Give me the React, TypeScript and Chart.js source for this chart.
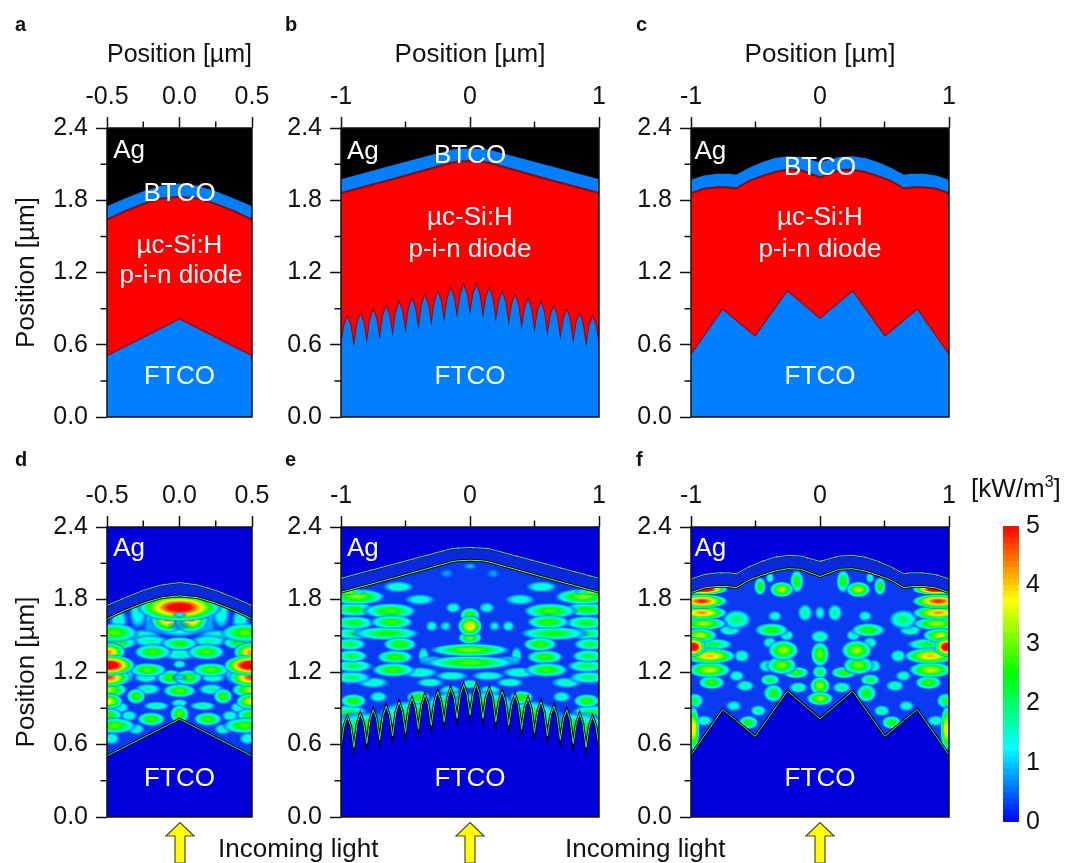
import React, { useEffect, useRef } from "react";
import { Chart, registerables } from "chart.js";

Chart.register(...registerables);

type Pair = [number, number];
type Blob = [number, number, number, number, number];

const FONT = '"Liberation Sans", Arial, sans-serif';
const FS = 26;
const TICK_FS = 25;

const yTicks = [0, 0.6, 1.2, 1.8, 2.4];
const yMinor = [0.3, 0.9, 1.5, 2.1];
const narrowTicks = [-0.5, 0, 0.5];
const narrowLabels = ["-0.5", "0.0", "0.5"];
const narrowMinor = [-0.25, 0.25];
const wideTicks = [-1, 0, 1];
const wideLabels = ["-1", "0", "1"];
const wideMinor = [-0.5, 0.5];

const mirror = (half: Pair[]): Pair[] => [
  ...half,
  ...half.slice(0, -1).reverse().map(([x, y]) => [-x, y] as Pair),
];

// Layer boundaries, left half (the structures are mirror symmetric)
const aFtco: Pair[] = [[-0.5, 0.505], [0, 0.81]];
const aSi: Pair[] = [[-0.5, 1.64], [-0.375, 1.71], [-0.25, 1.77], [-0.125, 1.815], [0, 1.83]];
const aBtco: Pair[] = [[-0.5, 1.75], [-0.375, 1.815], [-0.25, 1.875], [-0.125, 1.92], [0, 1.94]];

const bFtco: Pair[] = [
  [-1, 0.59], [-0.975, 0.76], [-0.95, 0.83], [-0.925, 0.755], [-0.9, 0.576], [-0.875, 0.772], [-0.85, 0.856], [-0.825, 0.782],
  [-0.8, 0.609], [-0.775, 0.805], [-0.75, 0.889], [-0.725, 0.814], [-0.7, 0.64], [-0.675, 0.835], [-0.65, 0.919], [-0.625, 0.844],
  [-0.6, 0.67], [-0.575, 0.867], [-0.55, 0.952], [-0.525, 0.876], [-0.5, 0.7], [-0.475, 0.897], [-0.45, 0.982], [-0.425, 0.906],
  [-0.4, 0.727], [-0.375, 0.925], [-0.35, 1.01], [-0.325, 0.934], [-0.3, 0.757], [-0.275, 0.953], [-0.25, 1.037], [-0.225, 0.962],
  [-0.2, 0.787], [-0.175, 0.983], [-0.15, 1.067], [-0.125, 0.992], [-0.1, 0.817], [-0.075, 1.013], [-0.05, 1.097], [-0.025, 1.021], [0, 0.845],
];
const bSi: Pair[] = [[-1, 1.86], [-0.6, 1.975], [-0.2, 2.095], [-0.15, 2.11], [-0.1, 2.12], [0, 2.125]];
const bBtco: Pair[] = [[-1, 1.975], [-0.6, 2.09], [-0.2, 2.205], [-0.15, 2.22], [-0.1, 2.225], [0, 2.23]];

const cFtco: Pair[] = [[-1, 0.513], [-0.754, 0.891], [-0.503, 0.667], [-0.253, 1.042], [0, 0.814]];
const cSi: Pair[] = [[-1, 1.857], [-0.9, 1.895], [-0.8, 1.908], [-0.72, 1.908], [-0.65, 1.897], [-0.55, 1.96], [-0.45, 2.0], [-0.35, 2.035], [-0.25, 2.055], [-0.15, 2.05], [-0.05, 2.01], [0, 1.99]];
const cBtco: Pair[] = [[-1, 1.97], [-0.9, 2.005], [-0.8, 2.02], [-0.7, 2.02], [-0.65, 2.012], [-0.55, 2.07], [-0.45, 2.115], [-0.35, 2.15], [-0.25, 2.165], [-0.15, 2.16], [-0.05, 2.13], [0, 2.115]];

// Absorption hot spots: x, y [µm], kW/m³, radius x, radius y [µm], left half
const dSpots: Blob[] = [
  [0, 1.735, 5.6, 0.17, 0.06], [-0.08, 1.64, 4.4, 0.07, 0.06], [0, 1.6, 2.4, 0.14, 0.06], [-0.18, 1.63, 1.6, 0.05, 0.1],
  [-0.287, 1.69, 1.6, 0.04, 0.08], [-0.42, 1.62, 1.6, 0.04, 0.07], [-0.45, 1.526, 3.0, 0.1, 0.04], [-0.275, 1.498, 1.8, 0.1, 0.03],
  [0, 1.435, 2.6, 0.08, 0.03], [-0.425, 1.443, 2.8, 0.08, 0.03], [-0.2, 1.457, 1.8, 0.09, 0.025], [-0.49, 1.366, 4.4, 0.07, 0.04],
  [-0.184, 1.366, 2.9, 0.08, 0.035], [0, 1.347, 1.8, 0.09, 0.025], [-0.49, 1.256, 6.0, 0.11, 0.045], [0, 1.265, 1.7, 0.03, 0.02],
  [-0.218, 1.218, 3.0, 0.08, 0.03], [-0.368, 1.196, 1.7, 0.04, 0.055], [-0.49, 1.155, 4.8, 0.09, 0.04], [-0.06, 1.155, 2.9, 0.06, 0.035],
  [-0.23, 1.155, 1.7, 0.06, 0.025], [-0.49, 1.053, 3.4, 0.08, 0.035], [0, 1.045, 3.0, 0.07, 0.03], [-0.218, 1.058, 1.8, 0.06, 0.025],
  [-0.3, 1.0, 2.9, 0.04, 0.035], [-0.49, 0.957, 3.8, 0.06, 0.035], [-0.16, 0.92, 1.9, 0.06, 0.02], [0, 0.943, 1.7, 0.04, 0.02],
  [-0.41, 0.907, 1.8, 0.04, 0.025], [0, 0.852, 3.0, 0.04, 0.04], [-0.49, 0.844, 2.8, 0.06, 0.03], [-0.195, 0.811, 2.9, 0.06, 0.03],
  [-0.35, 0.838, 1.7, 0.04, 0.025], [-0.448, 0.756, 3.0, 0.09, 0.035], [-0.3, 0.728, 1.7, 0.04, 0.025], [-0.47, 0.65, 1.6, 0.04, 0.03],
];
// The dark centres inside the rings of panel d, drawn last
const dHoles: Blob[] = [[0, 1.585, 0.6, 0.05, 0.02], [0, 1.675, 1.4, 0.03, 0.012], [0, 1.155, 1.2, 0.035, 0.012]];
const eSpots: Blob[] = [
  [-0.879, 1.823, 3.2, 0.17, 0.035], [-0.9, 1.718, 2.6, 0.14, 0.03], [-0.62, 1.705, 2.9, 0.16, 0.035], [-0.555, 1.905, 1.7, 0.1, 0.025],
  [-0.9, 1.608, 2.5, 0.13, 0.03], [-0.607, 1.614, 2.9, 0.13, 0.03], [-0.9, 1.52, 2.2, 0.12, 0.03], [-0.646, 1.52, 2.6, 0.2, 0.03],
  [-0.93, 1.43, 2.3, 0.1, 0.028], [-0.543, 1.43, 2.9, 0.1, 0.03], [-0.917, 1.333, 2.3, 0.1, 0.028], [-0.581, 1.325, 2.8, 0.11, 0.03],
  [-0.904, 1.25, 2.2, 0.12, 0.028], [-0.594, 1.218, 2.9, 0.13, 0.03], [-0.917, 1.155, 2.1, 0.12, 0.028], [-0.75, 1.113, 1.7, 0.1, 0.025],
  [-0.904, 0.962, 2.8, 0.08, 0.03], [-0.71, 0.995, 1.7, 0.06, 0.025], [-0.4, 0.99, 2.8, 0.07, 0.03], [-0.49, 0.893, 2.4, 0.1, 0.035],
  [-0.94, 0.866, 2.2, 0.12, 0.035], [-0.13, 1.732, 1.6, 0.05, 0.025], [-0.297, 1.58, 1.6, 0.04, 0.025], [-0.19, 1.58, 1.3, 0.04, 0.025],
  [-0.388, 1.8, 1.6, 0.1, 0.025], [-0.18, 2.015, 0.9, 0.05, 0.025], [0, 2.075, 1.0, 0.05, 0.018], [-0.36, 1.333, 1.7, 0.035, 0.045],
  [-0.284, 1.292, 1.7, 0.09, 0.022], [-0.388, 1.196, 1.7, 0.12, 0.025], [-0.142, 1.168, 1.7, 0.11, 0.022], [-0.31, 1.113, 1.7, 0.09, 0.022],
  [-0.155, 1.045, 1.8, 0.07, 0.025], [0, 1.1, 1.9, 0.06, 0.022], [0, 1.669, 3.0, 0.06, 0.035], [0, 1.58, 4.1, 0.07, 0.045],
  [0, 1.485, 3.2, 0.07, 0.028], [0, 1.383, 3.2, 0.24, 0.028], [0, 1.278, 3.0, 0.27, 0.03], [-0.75, 0.74, 2.6, 0.3, 0.07],
  [-0.4, 0.84, 2.6, 0.25, 0.07], [-0.1, 0.93, 2.6, 0.2, 0.06], [-0.95, 1.86, 3.4, 0.1, 0.012],
];
const fSpots: Blob[] = [
  [-0.904, 1.883, 6.0, 0.14, 0.022], [-0.917, 1.787, 5.0, 0.15, 0.03], [-0.917, 1.69, 4.4, 0.15, 0.03], [-0.904, 1.6, 3.4, 0.14, 0.028],
  [-0.93, 1.504, 3.6, 0.1, 0.03], [-0.982, 1.408, 6.0, 0.07, 0.04], [-0.853, 1.333, 4.2, 0.15, 0.035], [-0.858, 1.218, 3.6, 0.13, 0.035],
  [-0.84, 1.113, 2.9, 0.08, 0.03], [-0.97, 0.962, 2.4, 0.05, 0.035], [-0.98, 0.73, 4.0, 0.035, 0.1], [-0.9, 0.797, 1.7, 0.06, 0.025],
  [-0.646, 1.636, 2.1, 0.09, 0.045], [-0.7, 1.548, 1.9, 0.07, 0.025], [-0.827, 1.43, 2.4, 0.12, 0.025], [-0.607, 1.333, 1.8, 0.05, 0.03],
  [-0.67, 0.92, 1.6, 0.05, 0.025], [-0.375, 1.548, 2.8, 0.1, 0.03], [-0.258, 1.504, 1.8, 0.045, 0.025], [-0.284, 1.38, 3.4, 0.09, 0.045],
  [-0.388, 1.443, 1.8, 0.045, 0.025], [-0.297, 1.256, 3.2, 0.09, 0.04], [-0.186, 1.196, 2.8, 0.08, 0.025], [-0.413, 1.25, 1.8, 0.05, 0.03],
  [-0.388, 1.135, 2.4, 0.06, 0.025], [-0.36, 1.025, 2.7, 0.06, 0.04], [-0.58, 1.086, 1.8, 0.06, 0.025], [-0.555, 0.783, 2.7, 0.06, 0.03],
  [-0.478, 0.88, 1.9, 0.05, 0.025], [-0.297, 1.883, 3.6, 0.07, 0.035], [-0.18, 1.95, 2.8, 0.04, 0.05], [-0.388, 1.98, 1.7, 0.025, 0.025],
  [-0.465, 1.91, 2.8, 0.035, 0.04], [0, 1.347, 3.2, 0.055, 0.055], [0, 1.493, 1.9, 0.06, 0.03], [0, 1.2, 2.4, 0.045, 0.03],
  [0, 1.086, 3.4, 0.06, 0.04], [0, 0.98, 3.4, 0.08, 0.03], [-0.116, 1.69, 1.9, 0.045, 0.04], [0, 1.69, 1.5, 0.035, 0.035],
  [-0.35, 1.663, 1.6, 0.045, 0.025], [-0.168, 1.072, 1.9, 0.06, 0.025], [-0.646, 1.168, 1.7, 0.05, 0.025],
];

const aLabels = [["Ag", -0.348, 2.21], ["BTCO", 0, 1.85], ["µc-Si:H", 0, 1.42], ["p-i-n diode", 0.01, 1.17], ["FTCO", 0, 0.33]];
const bLabels = [["Ag", -0.83, 2.2], ["BTCO", 0, 2.17], ["µc-Si:H", 0, 1.65], ["p-i-n diode", 0, 1.39], ["FTCO", 0, 0.337]];
const cLabels = [["Ag", -0.85, 2.2], ["BTCO", 0, 2.07], ["µc-Si:H", 0, 1.65], ["p-i-n diode", 0, 1.39], ["FTCO", 0, 0.337]];
const dLabels = [["Ag", -0.348, 2.22], ["FTCO", 0, 0.32]];
const eLabels = [["Ag", -0.83, 2.22], ["FTCO", 0, 0.32]];
const fLabels = [["Ag", -0.85, 2.22], ["FTCO", 0, 0.32]];

const barBands = [0, 0.1, 0.2, 0.3, 0.4, 0.5, 0.6, 0.7, 0.8, 0.9, 1, 1.1, 1.2, 1.3, 1.4, 1.5, 1.6, 1.7, 1.8, 1.9, 2, 2.1, 2.2, 2.3, 2.4, 2.5, 2.6, 2.7, 2.8, 2.9, 3, 3.1, 3.2, 3.3, 3.4, 3.5, 3.6, 3.7, 3.8, 3.9, 4, 4.1, 4.2, 4.3, 4.4, 4.5, 4.6, 4.7, 4.8, 4.9];
const barTicks = [0, 1, 2, 3, 4, 5];

const jet = (v: number, a = 1) => {
  const t = Math.max(0, Math.min(1, v / 5)) * 4;
  let r = 0, g = 0, b = 0;
  if (t < 1) { g = t; b = 1; }
  else if (t < 2) { g = 1; b = 2 - t; }
  else if (t < 3) { r = t - 2; g = 1; }
  else { r = 1; g = 4 - t; }
  return `rgba(${Math.round(r * 255)},${Math.round(g * 255)},${Math.round(b * 255)},${a})`;
};

const spotImage = (wpx: number, hpx: number, v: number) => {
  const c = document.createElement("canvas");
  c.width = Math.max(2, Math.ceil(wpx * 2));
  c.height = Math.max(2, Math.ceil(hpx * 2));
  const g = c.getContext("2d")!;
  g.translate(c.width / 2, c.height / 2);
  g.scale(c.width / 2, c.height / 2);
  const grad = g.createRadialGradient(0, 0, 0, 0, 0, 1);
  for (let i = 0; i <= 20; i++) {
    const r = i / 20;
    const val = v * (1 - Math.pow(r, 1.6));
    grad.addColorStop(r, jet(val, Math.min(1, val / 0.9)));
  }
  g.fillStyle = grad;
  g.beginPath();
  g.arc(0, 0, 1, 0, Math.PI * 2);
  g.fill();
  return c;
};

const minorAndText = {
  id: "minorAndText",
  beforeDatasetsDraw(chart: any, _a: any, o: any) {
    const { ctx, chartArea: ca } = chart;
    if (o.background) {
      ctx.save();
      ctx.fillStyle = o.background;
      ctx.fillRect(ca.left, ca.top, ca.right - ca.left, ca.bottom - ca.top);
      ctx.restore();
    }
  },
  afterDraw(chart: any, _a: any, o: any) {
    const { ctx, chartArea: ca, scales } = chart;
    ctx.save();
    ctx.fillStyle = "#fff";
    ctx.font = `${FS}px ${FONT}`;
    ctx.textAlign = "center";
    ctx.textBaseline = "middle";
    for (const [t, x, y] of o.labels) ctx.fillText(t, scales.x.getPixelForValue(x), scales.y.getPixelForValue(y));
    ctx.strokeStyle = "#111";
    ctx.lineWidth = 1.5;
    ctx.strokeRect(ca.left, ca.top, ca.right - ca.left, ca.bottom - ca.top);
    ctx.beginPath();
    for (const v of o.minorY) {
      const p = scales.y.getPixelForValue(v);
      ctx.moveTo(ca.left - 6.5, p);
      ctx.lineTo(ca.left, p);
    }
    for (const v of o.minorX) {
      const p = scales.x.getPixelForValue(v);
      ctx.moveTo(p, ca.top - 6.5);
      ctx.lineTo(p, ca.top);
    }
    ctx.stroke();
    ctx.restore();
  },
};

const toPts = (pairs: Pair[]) => pairs.map(([x, y]) => ({ x, y }));
const line = (pts: Pair[], extra: any) => ({
  type: "line",
  data: toPts(pts),
  pointRadius: 0,
  tension: 0,
  fill: false,
  borderWidth: 1,
  borderColor: "transparent",
  ...extra,
});

const structureSets = (f: Pair[], s: Pair[], b: Pair[]) => [
  line(f, { fill: "start", backgroundColor: "#0080ff", order: 3 }),
  line(f, { fill: "end", backgroundColor: "#ff0000", borderColor: "#8a0a0a", borderWidth: 2, order: 6 }),
  line(s, { fill: "end", backgroundColor: "#0080ff", borderColor: "#8a0a0a", borderWidth: 2, order: 5 }),
  line(b, { fill: "end", backgroundColor: "#000000", order: 4 }),
];

const spotPoints = (all: Blob[], order: number) => ({
  type: "scatter",
  data: all.map(([x, y, v, w, h]) => ({ x, y, v, w, h })),
  order,
  pointRadius: 1,
  pointBorderWidth: 0,
  pointStyle: (c: any) => {
    const r = c.raw;
    if (!r) return "circle";
    const sx = c.chart.scales.x, sy = c.chart.scales.y;
    const wp = Math.abs(sx.getPixelForValue(r.w) - sx.getPixelForValue(0));
    const hp = Math.abs(sy.getPixelForValue(r.h) - sy.getPixelForValue(0));
    const narrow = sx.max - sx.min < 1.5 ? 1.25 : 1;
    return spotImage(wp * 1.4 * narrow, hp * 2, r.v);
  },
});

const fieldSets = (f: Pair[], s: Pair[], b: Pair[], spots: Blob[], inner: string, holes: Blob[] = []) => {
  const all = [...spots, ...spots.filter((p) => p[0] !== 0).map((p) => [-p[0], p[1], p[2], p[3], p[4]] as Blob)].sort((p, q) => p[2] - q[2]);
  return [
    spotPoints(all, 20),
    spotPoints(holes, 19),
    line(s, { fill: "end", backgroundColor: "#0a28dc", order: 10 }),
    line(b, { fill: "end", backgroundColor: "#0000dc", order: 9 }),
    line(f, { fill: "start", backgroundColor: "#0000dc", order: 8 }),
    line(f, { borderColor: "#000", borderWidth: 2.8, order: 7 }),
    line(f, { borderColor: inner, borderWidth: 1, order: 6 }),
    line(s, { borderColor: "#000", borderWidth: 2.8, order: 5 }),
    line(s, { borderColor: "#4dff70", borderWidth: 1, order: 4 }),
    line(b, { borderColor: "#06123a", borderWidth: 2.2, order: 3 }),
    line(b, { borderColor: "#22e0d8", borderWidth: 1, order: 2 }),
    line(b, { borderColor: "#ff6a20", borderWidth: 1.4, borderDash: [2, 13], order: 1 }),
  ];
};

type Cfg = {
  left: number; top: number; width: number; height: number;
  plotL: number; plotT: number; plotB: number; plotR: number;
  xMin: number; xMax: number; xT: number[]; xL: string[]; xM: number[];
  xTitle: boolean; yTitle: boolean; labels: any[]; sets: any[]; bg?: string;
};

const heatBase = "#0a3af2";

const panels: Cfg[] = [
  { left: 0, top: 30, width: 290, height: 410, plotL: 107, plotR: 252, plotT: 128, plotB: 419, xMin: -0.5, xMax: 0.5, xT: narrowTicks, xL: narrowLabels, xM: narrowMinor, xTitle: true, yTitle: true, labels: aLabels, sets: structureSets(mirror(aFtco), mirror(aSi), mirror(aBtco)) },
  { left: 270, top: 30, width: 360, height: 410, plotL: 341, plotR: 599, plotT: 128, plotB: 420, xMin: -1, xMax: 1, xT: wideTicks, xL: wideLabels, xM: wideMinor, xTitle: true, yTitle: false, labels: bLabels, sets: structureSets(mirror(bFtco), mirror(bSi), mirror(bBtco)) },
  { left: 620, top: 30, width: 362, height: 410, plotL: 691, plotR: 949, plotT: 128, plotB: 420, xMin: -1, xMax: 1, xT: wideTicks, xL: wideLabels, xM: wideMinor, xTitle: true, yTitle: false, labels: cLabels, sets: structureSets(mirror(cFtco), mirror(cSi), mirror(cBtco)) },
  { left: 0, top: 470, width: 290, height: 370, plotL: 107, plotR: 252, plotT: 527, plotB: 818, xMin: -0.5, xMax: 0.5, xT: narrowTicks, xL: narrowLabels, xM: narrowMinor, xTitle: false, yTitle: true, labels: dLabels, bg: heatBase, sets: fieldSets(mirror(aFtco), mirror(aSi), mirror(aBtco), dSpots, "#20e8b0", dHoles) },
  { left: 270, top: 470, width: 360, height: 370, plotL: 341, plotR: 599, plotT: 527, plotB: 818, xMin: -1, xMax: 1, xT: wideTicks, xL: wideLabels, xM: wideMinor, xTitle: false, yTitle: false, labels: eLabels, bg: heatBase, sets: fieldSets(mirror(bFtco), mirror(bSi), mirror(bBtco), eSpots, "#30e890") },
  { left: 620, top: 470, width: 362, height: 370, plotL: 691, plotR: 949, plotT: 527, plotB: 818, xMin: -1, xMax: 1, xT: wideTicks, xL: wideLabels, xM: wideMinor, xTitle: false, yTitle: false, labels: fLabels, bg: heatBase, sets: fieldSets(mirror(cFtco), mirror(cSi), mirror(cBtco), fSpots, "#20e8b0") },
];

function makePanel(cv: HTMLCanvasElement, p: Cfg) {
  const axisFont = { family: FONT, size: TICK_FS };
  const titleFont = { family: FONT, size: FS };
  return new Chart(cv, {
    type: "scatter",
    data: { datasets: p.sets },
    plugins: [minorAndText],
    options: {
      animation: false,
      responsive: false,
      events: [],
      layout: { padding: { left: 0, top: 0, right: p.left + p.width - p.plotR, bottom: p.top + p.height - p.plotB } },
      plugins: {
        legend: { display: false },
        tooltip: { enabled: false },
        minorAndText: { labels: p.labels, minorX: p.xM, minorY: yMinor, background: p.bg },
      },
      scales: {
        x: {
          type: "linear",
          position: "top",
          min: p.xMin,
          max: p.xMax,
          afterFit: (s: any) => { s.height = p.plotT - p.top; },
          afterBuildTicks: (s: any) => { s.ticks = p.xT.map((value) => ({ value })); },
          border: { display: false },
          grid: { drawOnChartArea: false, tickLength: 11, tickWidth: 1.5, tickColor: "#111" },
          ticks: { color: "#111", font: axisFont, padding: 5, maxRotation: 0, autoSkip: false, callback: (v: any) => p.xL[p.xT.indexOf(v)] ?? "" },
          title: { display: p.xTitle, text: "Position [µm]", color: "#111", font: titleFont, padding: { top: 9, bottom: 0 } },
        },
        y: {
          type: "linear",
          position: "left",
          min: 0,
          max: 2.4,
          afterFit: (s: any) => { s.width = p.plotL - p.left; },
          afterBuildTicks: (s: any) => { s.ticks = yTicks.map((value) => ({ value })); },
          border: { display: false },
          grid: { drawOnChartArea: false, tickLength: 11, tickWidth: 1.5, tickColor: "#111" },
          ticks: { color: "#111", font: axisFont, padding: 8, autoSkip: false, callback: (v: any) => Number(v).toFixed(1) },
          title: { display: p.yTitle, text: "Position [µm]", color: "#111", font: titleFont, padding: { top: 11, bottom: 0 } },
        },
      },
    } as any,
  } as any);
}

function makeColorbar(cv: HTMLCanvasElement) {
  return new Chart(cv, {
    type: "bar",
    data: {
      labels: ["scale"],
      datasets: barBands.map((lo) => ({
        data: [[lo, lo + 0.1] as any],
        backgroundColor: jet(lo + 0.05),
        barPercentage: 1,
        categoryPercentage: 1,
        borderWidth: 0,
      })),
    },
    options: {
      animation: false,
      responsive: false,
      events: [],
      layout: { padding: { left: 13, top: 0, right: 0, bottom: 18 } },
      plugins: { legend: { display: false }, tooltip: { enabled: false } },
      scales: {
        x: { display: false, stacked: true },
        y: {
          position: "right",
          min: 0,
          max: 5,
          afterFit: (s: any) => { s.width = 46; },
          afterBuildTicks: (s: any) => { s.ticks = barTicks.map((value) => ({ value })); },
          border: { display: false },
          grid: { display: false, drawTicks: false },
          ticks: { color: "#111", font: { family: FONT, size: TICK_FS }, padding: 7 },
        },
      },
    } as any,
  } as any);
}

const Arrow = ({ cx }: { cx: number }) => (
  <svg style={{ position: "absolute", left: cx - 16, top: 820, overflow: "hidden" }} width={32} height={43}>
    <polygon points="16,2.5 30,16 21,16 21,43 11,43 11,16 2,16" fill="#ffff00" stroke="#4a4a30" strokeWidth={1.2} />
  </svg>
);

const textStyle = (left: number, top: number): React.CSSProperties => ({
  position: "absolute", left, top, font: `${FS}px ${FONT}`, color: "#111", whiteSpace: "nowrap", lineHeight: "28px",
});
const letter = (left: number, top: number): React.CSSProperties => ({
  position: "absolute", left, top, font: `bold 20px ${FONT}`, color: "#111", lineHeight: "24px",
});

const letters: [string, number, number][] = [["a", 15, 12], ["b", 285, 12], ["c", 636, 12], ["d", 15, 447], ["e", 285, 447], ["f", 636, 447]];

export default function App() {
  const refs = useRef<(HTMLCanvasElement | null)[]>([]);
  const barRef = useRef<HTMLCanvasElement | null>(null);
  useEffect(() => {
    const charts = panels.map((p, i) => makePanel(refs.current[i]!, p));
    charts.push(makeColorbar(barRef.current!));
    return () => charts.forEach((c) => c.destroy());
  }, []);
  return (
    <div style={{ position: "absolute", left: 0, top: 0, width: 1065, height: 863, background: "#fff", overflow: "hidden" }}>
      {panels.map((p, i) => (
        <canvas key={i} ref={(el) => { refs.current[i] = el; }} width={p.width} height={p.height}
          style={{ position: "absolute", left: p.left, top: p.top, width: p.width, height: p.height }} />
      ))}
      <canvas ref={barRef} width={75} height={340} style={{ position: "absolute", left: 990, top: 504, width: 75, height: 340 }} />
      {letters.map(([t, x, y]) => <div key={t} style={letter(x, y)}>{t}</div>)}
      <div style={textStyle(971, 474)}>[kW/m<sup style={{ fontSize: 16, lineHeight: 0 }}>3</sup>]</div>
      <div style={textStyle(218, 834)}>Incoming light</div>
      <div style={textStyle(565, 834)}>Incoming light</div>
      <Arrow cx={180} />
      <Arrow cx={470} />
      <Arrow cx={820} />
    </div>
  );
}
